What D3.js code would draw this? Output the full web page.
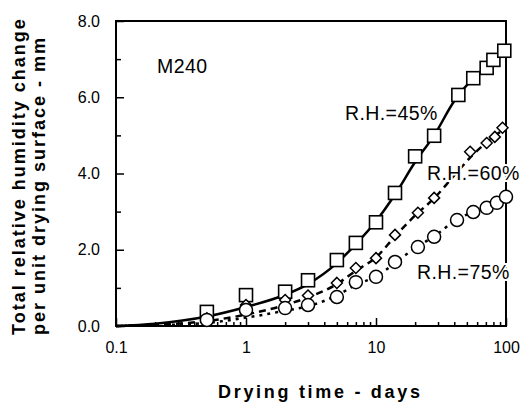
<!DOCTYPE html>
<html>
<head>
<meta charset="utf-8">
<script src="https://cdn.jsdelivr.net/npm/d3@7"></script>
<style>
  body { margin: 0; background: #fff; }
  text { font-family: "Liberation Sans", Arial, sans-serif; fill: #000; }
</style>
</head>
<body>
<div id="chart"></div>
<script>
// measured points (days, mm)
const days45 = [0.5, 1, 2, 3, 5, 7, 10, 14, 20, 28, 43, 56, 71, 80, 97];
const vals45 = [0.37, 0.81, 0.9, 1.2, 1.73, 2.18, 2.72, 3.49, 4.45, 4.99, 6.06, 6.5, 6.77, 6.98, 7.22];

const days60 = [0.5, 1, 2, 3, 5, 7, 10, 14, 21, 28, 53, 71, 82, 94];
const vals60 = [0.2, 0.55, 0.68, 0.8, 1.13, 1.52, 1.78, 2.39, 2.97, 3.36, 4.57, 4.8, 4.96, 5.2];

const days75 = [0.5, 1, 2, 3, 5, 7, 10, 14, 21, 28, 42, 56, 71, 85, 100];
const vals75 = [0.16, 0.42, 0.47, 0.55, 0.76, 1.15, 1.29, 1.68, 2.07, 2.34, 2.78, 2.99, 3.1, 3.23, 3.39];

// fitted curves
const fitDays = [0.1, 0.2, 0.5, 1, 2, 3, 5, 7, 10, 14, 20, 28, 40, 56, 70, 100];
const fit45 = [0, 0.06, 0.25, 0.5, 0.82, 1.1, 1.65, 2.15, 2.75, 3.45, 4.3, 5.0, 5.9, 6.5, 6.8, 7.25];
const fit60 = [0, 0.03, 0.13, 0.3, 0.55, 0.75, 1.1, 1.45, 1.8, 2.35, 2.9, 3.35, 3.95, 4.5, 4.8, 5.2];
const fit75 = [0, 0.02, 0.08, 0.22, 0.4, 0.52, 0.8, 1.08, 1.3, 1.65, 2.05, 2.35, 2.75, 3.0, 3.12, 3.38];

const yTicks = [0, 2, 4, 6, 8];
const xTicks = [0.1, 1, 10, 100];

const W = 522, H = 408;
const svg = d3.select("#chart").append("svg")
    .attr("width", W)
    .attr("height", H);

const x = d3.scaleLog().domain([0.1, 100]).range([116, 506]);
const y = d3.scaleLinear().domain([0, 8]).range([326, 21]);

// minor ticks
svg.append("g")
    .attr("transform", `translate(0,${y(0)})`)
    .call(d3.axisBottom(x).tickValues(x.ticks().filter(t => !xTicks.includes(t))).tickSize(-4).tickFormat(""))
    .call(g => g.select(".domain").remove())
    .call(g => g.selectAll("line").attr("stroke-width", 1.5));

svg.append("g")
    .attr("transform", `translate(${x(0.1)},0)`)
    .call(d3.axisLeft(y).tickValues([1, 3, 5, 7]).tickSize(-5).tickFormat(""))
    .call(g => g.select(".domain").remove())
    .call(g => g.selectAll("line").attr("stroke-width", 1.5));

// major ticks with labels
svg.append("g")
    .attr("transform", `translate(0,${y(0)})`)
    .call(d3.axisBottom(x).tickValues(xTicks).tickSize(-8).tickPadding(16).tickFormat(d => String(d)))
    .call(g => g.select(".domain").remove())
    .call(g => g.selectAll("line").attr("stroke-width", 1.5))
    .call(g => g.selectAll("text").attr("font-size", 16).attr("font-family", "Liberation Sans, Arial, sans-serif"));

svg.append("g")
    .attr("transform", `translate(${x(0.1)},0)`)
    .call(d3.axisLeft(y).tickValues(yTicks).tickSize(-8).tickPadding(16).tickFormat(d3.format(".1f")))
    .call(g => g.select(".domain").remove())
    .call(g => g.selectAll("line").attr("stroke-width", 1.5))
    .call(g => g.selectAll("text").attr("font-size", 16).attr("font-family", "Liberation Sans, Arial, sans-serif"));

// frame
svg.append("rect")
    .attr("x", x(0.1)).attr("y", y(8))
    .attr("width", x(100) - x(0.1)).attr("height", y(0) - y(8))
    .attr("fill", "none").attr("stroke", "#000").attr("stroke-width", 2);

// fitted lines
const line = d3.line()
    .x(d => x(d[0]))
    .y(d => y(d[1]))
    .curve(d3.curveMonotoneX);

const fits = [
  { v: fit45, dash: null, w: 2.5 },
  { v: fit60, dash: "7,5", w: 2.5 },
  { v: fit75, dash: "3,5", w: 2.5 }
];
fits.forEach(f => {
  svg.append("path")
      .datum(fitDays.map((d, i) => [d, f.v[i]]))
      .attr("d", line)
      .attr("fill", "none")
      .attr("stroke", "#000")
      .attr("stroke-width", f.w)
      .attr("stroke-dasharray", f.dash);
});

// markers
const pts = (days, vals) => days.map((d, i) => [d, vals[i]]);

svg.append("g").selectAll("rect")
    .data(pts(days45, vals45))
    .join("rect")
    .attr("x", d => x(d[0]) - 6.5).attr("y", d => y(d[1]) - 6.5)
    .attr("width", 13).attr("height", 13)
    .attr("fill", "#fff").attr("stroke", "#000").attr("stroke-width", 1.6);

svg.append("g").selectAll("path")
    .data(pts(days60, vals60))
    .join("path")
    .attr("transform", d => `translate(${x(d[0])},${y(d[1])})`)
    .attr("d", "M0,-5.5L5.5,0L0,5.5L-5.5,0Z")
    .attr("fill", "#fff").attr("stroke", "#000").attr("stroke-width", 1.5);

svg.append("g").selectAll("circle")
    .data(pts(days75, vals75))
    .join("circle")
    .attr("cx", d => x(d[0])).attr("cy", d => y(d[1]))
    .attr("r", 6.5)
    .attr("fill", "#fff").attr("stroke", "#000").attr("stroke-width", 1.5);

// annotations
const notes = [
  { t: "M240", x: 157, y: 73 },
  { t: "R.H.=45%", x: 345, y: 120 },
  { t: "R.H.=60%", x: 427, y: 180 },
  { t: "R.H.=75%", x: 417, y: 279 }
];
svg.append("g").selectAll("text")
    .data(notes)
    .join("text")
    .attr("x", d => d.x).attr("y", d => d.y)
    .attr("font-size", 19.5)
    .attr("letter-spacing", 0.4)
    .attr("stroke", "#fff").attr("stroke-width", 4)
    .attr("paint-order", "stroke")
    .text(d => d.t);

// axis titles
svg.append("text")
    .attr("x", 218).attr("y", 398)
    .attr("font-size", 18).attr("font-weight", "bold")
    .attr("letter-spacing", 2.7)
    .text("Drying time - days");

const yt = svg.append("text")
    .attr("transform", "translate(0,335) rotate(-90)")
    .attr("font-size", 18).attr("font-weight", "bold")
    .attr("letter-spacing", 2);
yt.append("tspan").attr("x", 0).attr("y", 25).text("Total relative humidity change");
yt.append("tspan").attr("x", 0).attr("y", 45).text("per unit drying surface - mm");
</script>
</body>
</html>
